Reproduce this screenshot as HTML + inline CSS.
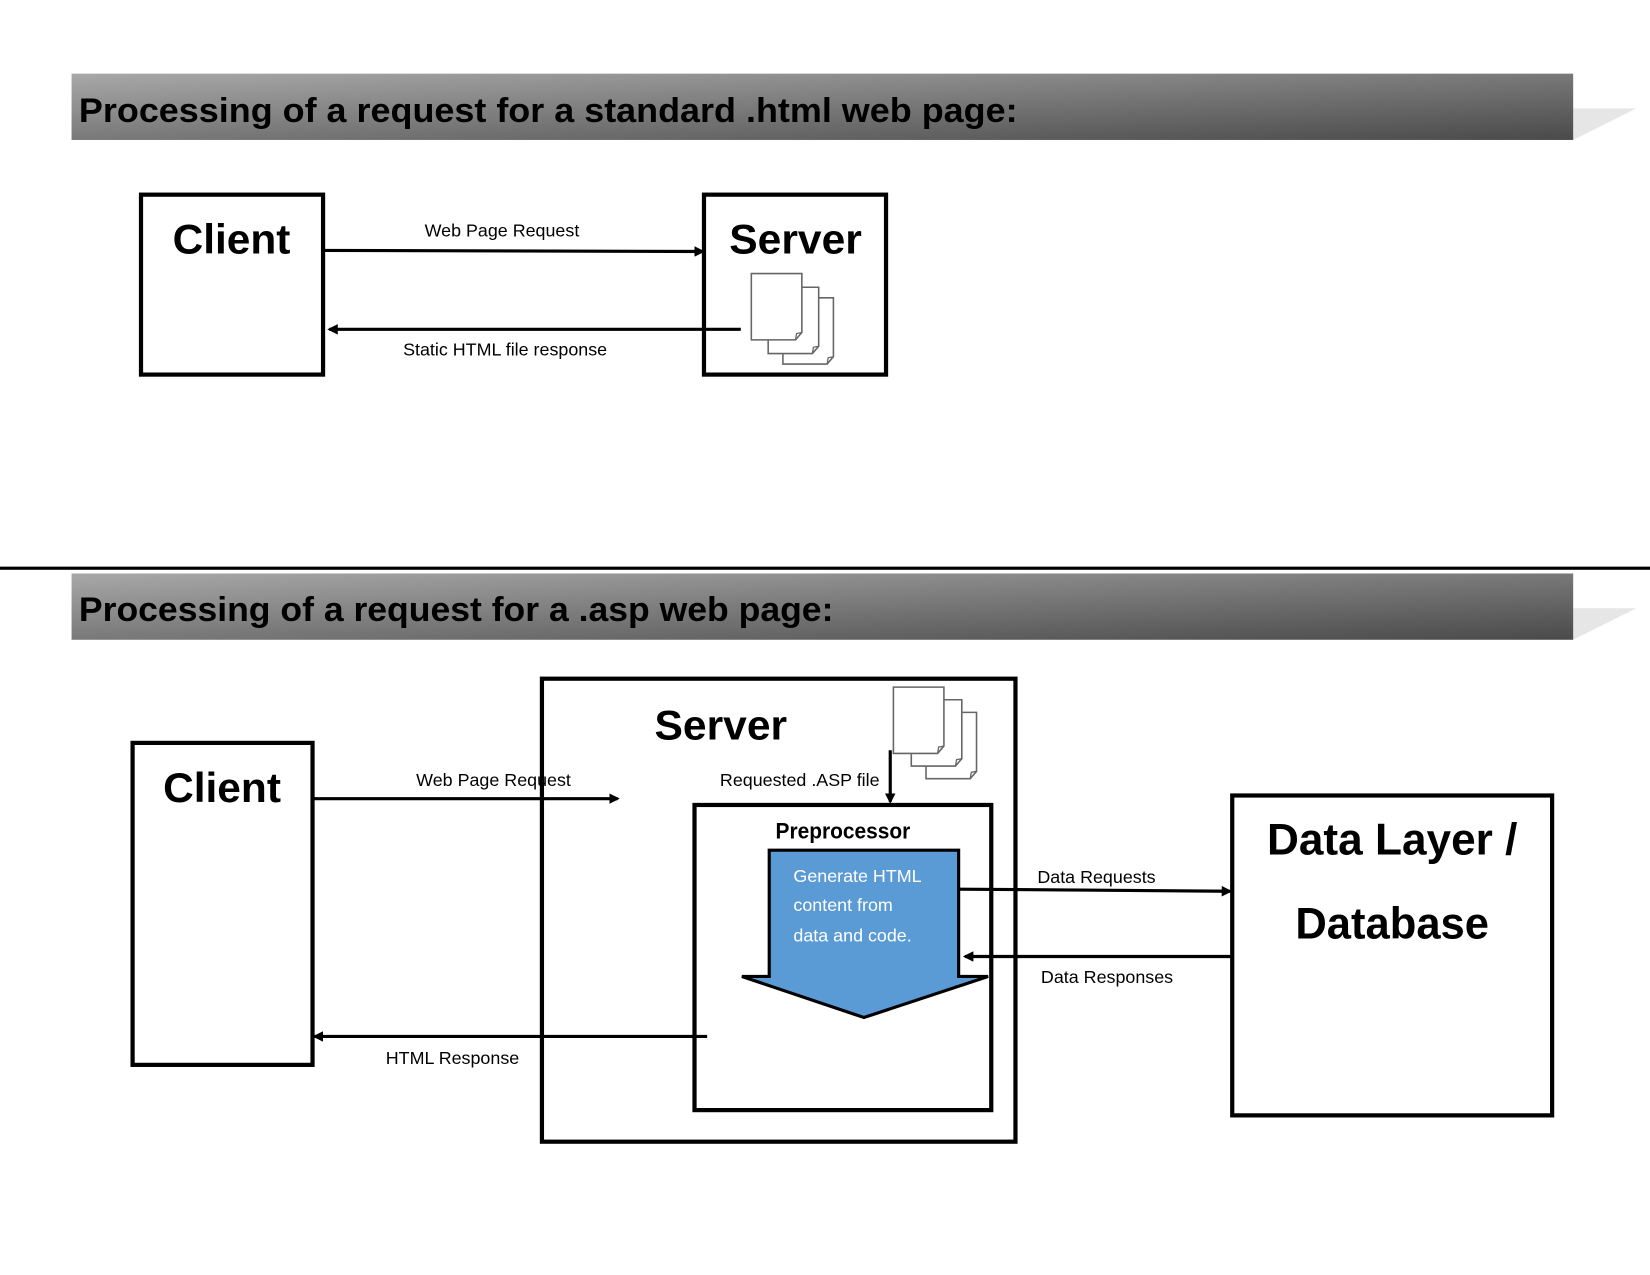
<!DOCTYPE html>
<html><head><meta charset="utf-8"><style>html,body{margin:0;padding:0;background:#fff}svg{display:block}</style></head>
<body>
<svg width="1650" height="1275" viewBox="0 0 1568 1211.7" preserveAspectRatio="none" xmlns="http://www.w3.org/2000/svg" font-family="'Liberation Sans', sans-serif">
<defs>
<linearGradient id="g" x1="0" y1="0" x2="1" y2="1">
<stop offset="0" stop-color="#a8a8a8"/><stop offset="1" stop-color="#4a4a4a"/>
</linearGradient>
<marker id="ar" markerWidth="10" markerHeight="10" refX="8" refY="5" orient="auto" markerUnits="userSpaceOnUse">
<path d="M0,0 L10,5 L0,10 Z" fill="#000"/></marker>
<g id="doc"><path d="M0,0 H48 V56 L42,63 H0 Z" fill="#fff" stroke="#666" stroke-width="1.5"/><path d="M42,63 L43,57 L48,56" fill="none" stroke="#666" stroke-width="1.2"/></g>
</defs>
<rect width="1568" height="1212" fill="#fff"/>
<!-- header 1 -->
<polygon points="1495,103 1555,103 1495,133" fill="#e6e6e6"/>
<rect x="68" y="70" width="1427" height="63" fill="url(#g)"/>
<text x="75" y="116" font-size="33" font-weight="bold" textLength="892" lengthAdjust="spacingAndGlyphs">Processing of a request for a standard .html web page:</text>
<!-- top diagram -->
<rect x="134" y="185" width="173" height="171" fill="none" stroke="#000" stroke-width="4"/>
<text x="220" y="241" font-size="40" font-weight="bold" text-anchor="middle" textLength="112" lengthAdjust="spacingAndGlyphs">Client</text>
<rect x="669" y="185" width="173" height="171" fill="none" stroke="#000" stroke-width="4"/>
<text x="756" y="241" font-size="40" font-weight="bold" text-anchor="middle" textLength="126" lengthAdjust="spacingAndGlyphs">Server</text>
<use href="#doc" x="744" y="283"/><use href="#doc" x="730" y="273"/><use href="#doc" x="714" y="260"/>
<line x1="307" y1="238" x2="668" y2="239" stroke="#000" stroke-width="3" marker-end="url(#ar)"/>
<text x="477" y="225" font-size="17" text-anchor="middle">Web Page Request</text>
<line x1="704" y1="313" x2="313" y2="313" stroke="#000" stroke-width="3" marker-end="url(#ar)"/>
<text x="480" y="338" font-size="17" text-anchor="middle">Static HTML file response</text>
<!-- separator -->
<rect x="0" y="538.5" width="1568" height="3" fill="#000"/>
<!-- header 2 -->
<polygon points="1495,578 1555,578 1495,608" fill="#e6e6e6"/>
<rect x="68" y="545" width="1427" height="63" fill="url(#g)"/>
<text x="75" y="590" font-size="33" font-weight="bold" textLength="717" lengthAdjust="spacingAndGlyphs">Processing of a request for a .asp web page:</text>
<!-- bottom -->
<rect x="126" y="706" width="171" height="306" fill="none" stroke="#000" stroke-width="4"/>
<text x="211" y="762" font-size="40" font-weight="bold" text-anchor="middle" textLength="112" lengthAdjust="spacingAndGlyphs">Client</text>
<rect x="515" y="645" width="450" height="440" fill="none" stroke="#000" stroke-width="4"/>
<text x="685" y="703" font-size="40" font-weight="bold" text-anchor="middle" textLength="126" lengthAdjust="spacingAndGlyphs">Server</text>
<use href="#doc" x="880" y="677"/><use href="#doc" x="866" y="665"/><use href="#doc" x="849" y="653"/>
<line x1="846" y1="713" x2="846" y2="762" stroke="#000" stroke-width="3" marker-end="url(#ar)"/>
<text x="760" y="747" font-size="17" text-anchor="middle">Requested .ASP file</text>
<line x1="297" y1="759" x2="587" y2="759" stroke="#000" stroke-width="3" marker-end="url(#ar)"/>
<text x="469" y="747" font-size="17" text-anchor="middle">Web Page Request</text>
<rect x="660" y="765" width="282" height="290" fill="none" stroke="#000" stroke-width="4"/>
<text x="801" y="797" font-size="21" font-weight="bold" text-anchor="middle" textLength="128" lengthAdjust="spacingAndGlyphs">Preprocessor</text>
<polygon points="731,808 911,808 911,928 939,928 821,967 705,928 731,928" fill="#5b9bd5" stroke="#000" stroke-width="3"/>
<text font-size="17" fill="#fff"><tspan x="754" y="838">Generate HTML</tspan><tspan x="754" y="866">content from</tspan><tspan x="754" y="895">data and code.</tspan></text>
<line x1="911" y1="845" x2="1169" y2="847" stroke="#000" stroke-width="3" marker-end="url(#ar)"/>
<text x="1042" y="839" font-size="17" text-anchor="middle">Data Requests</text>
<line x1="1170" y1="909" x2="917" y2="909" stroke="#000" stroke-width="3" marker-end="url(#ar)"/>
<text x="1052" y="934" font-size="17" text-anchor="middle">Data Responses</text>
<line x1="672" y1="985" x2="299" y2="985" stroke="#000" stroke-width="3" marker-end="url(#ar)"/>
<text x="430" y="1011" font-size="17" text-anchor="middle">HTML Response</text>
<rect x="1171" y="756" width="304" height="304" fill="none" stroke="#000" stroke-width="4"/>
<text x="1323" y="812" font-size="42" font-weight="bold" text-anchor="middle" textLength="238" lengthAdjust="spacingAndGlyphs">Data Layer /</text>
<text x="1323" y="892" font-size="42" font-weight="bold" text-anchor="middle" textLength="184" lengthAdjust="spacingAndGlyphs">Database</text>
</svg>
</body></html>
